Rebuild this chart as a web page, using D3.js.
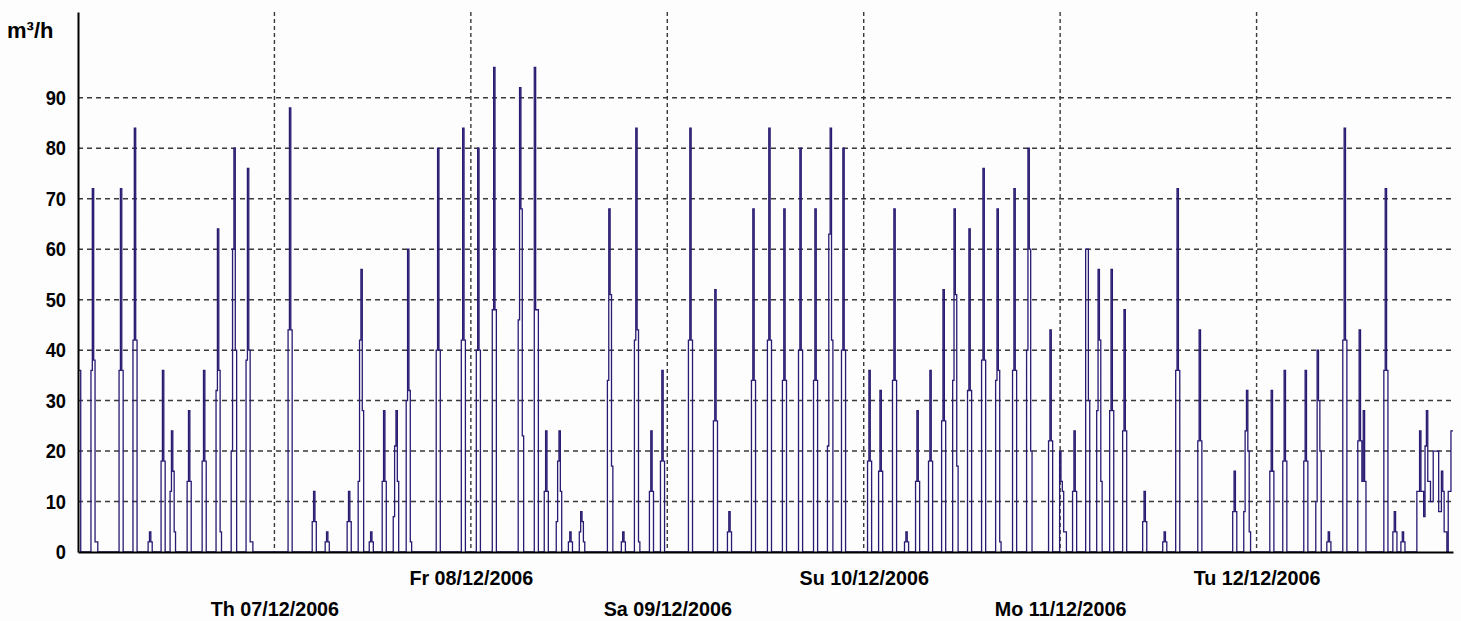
<!DOCTYPE html>
<html>
<head>
<meta charset="utf-8">
<script src="https://cdn.jsdelivr.net/npm/d3@7"></script>
<style>
  body { margin: 0; background: #fdfdfd; }
  svg { display: block; }
  text { font-family: "Liberation Sans", Arial, sans-serif; font-weight: bold; fill: #000; }
</style>
</head>
<body>
<svg id="chart" width="1461" height="621"></svg>
<script>
// flow readings, 10 minute samples, each pulse = start (hours after 06/12/2006 00:00) + values
var pulseStart = [
  0.00, 1.59, 5.01, 6.72, 8.56, 10.15, 11.25, 13.33, 15.16, 16.87, 18.71, 20.54,
  25.67, 28.61, 30.20, 32.89, 34.23, 35.58, 37.17, 38.51, 40.10, 43.77, 46.83,
  48.66, 50.62, 53.79, 55.75, 56.97, 58.44, 59.91, 61.25, 64.68, 66.39, 67.98, 69.81, 71.16,
  74.58, 77.64, 79.35, 82.28, 84.24, 86.07, 88.03, 89.86, 91.57, 93.28,
  96.46, 97.81, 99.52, 100.99, 102.33, 103.92, 105.51, 106.86, 108.69, 110.40, 112.11, 114.19, 115.90, 118.59,
  119.94, 121.52, 123.12, 124.46, 126.05, 127.64, 130.08, 132.53, 134.12, 136.81, 141.09, 142.43,
  145.61, 147.20, 149.77, 151.24, 152.58, 154.54, 156.37, 159.55, 160.65, 161.63, 163.59
];
var pulseValues = [
  [36, 36], [36, 72, 38, 2, 2], [36, 72, 36], [42, 84, 42], [2, 4, 2], [18, 36, 18], [12, 24, 16, 4],
  [14, 28, 14], [18, 36, 18], [32, 64, 36, 4], [20, 60, 80, 40], [38, 76, 40, 2, 2],
  [44, 88, 44], [6, 12, 6], [2, 4, 2], [6, 12, 6], [14, 42, 56, 28], [2, 4, 2], [14, 28, 14],
  [7, 21, 28, 14], [30, 60, 32, 2], [40, 80, 40], [42, 84, 42],
  [40, 80, 40], [48, 96, 48], [46, 92, 68, 23], [96, 48, 48], [12, 24, 12], [6, 18, 24, 12], [2, 4, 2],
  [4, 8, 6, 2], [34, 68, 51, 17], [2, 4, 2], [42, 84, 44, 2], [12, 24, 12], [18, 36, 18],
  [42, 84, 42], [26, 52, 26], [4, 8, 4], [34, 68, 34], [42, 84, 42], [34, 68, 34], [40, 80, 40],
  [34, 68, 34], [21, 63, 84, 42], [40, 80, 40],
  [18, 36, 18], [16, 32, 16], [34, 68, 34], [2, 4, 2], [14, 28, 14], [18, 36, 18], [26, 52, 26],
  [34, 68, 51, 17], [32, 64, 32], [38, 76, 38], [34, 68, 36, 2], [36, 72, 36], [40, 80, 60, 20], [22, 44, 22],
  [20, 14, 12, 4, 4], [12, 24, 12], [60, 60, 30], [28, 56, 42, 14], [28, 56, 28], [24, 48, 24], [6, 12, 6],
  [2, 4, 2], [36, 72, 36], [22, 44, 22], [8, 16, 8], [8, 24, 32, 20, 4],
  [16, 32, 16], [18, 36, 18], [18, 36, 18], [10, 40, 30, 20], [2, 4, 2], [42, 84, 42],
  [22, 44, 22, 14, 28, 14], [36, 72, 36], [4, 8, 4], [2, 4, 2],
  [12, 12, 24, 12, 12, 7, 21, 28, 14, 14, 10, 10, 20, 20, 20, 20, 8, 8, 16, 12, 4, 4, 0, 12, 12, 24, 24]
];
var yTicks = [0, 10, 20, 30, 40, 50, 60, 70, 80, 90];
var dayLabels = ['Th 07/12/2006', 'Fr 08/12/2006', 'Sa 09/12/2006', 'Su 10/12/2006', 'Mo 11/12/2006', 'Tu 12/12/2006'];
var unitLabel = 'm³/h';

var svg = d3.select('#chart');
var margin = { top: 12, right: 8, bottom: 69, left: 78 };
var width = 1461 - margin.left - margin.right;
var height = 621 - margin.top - margin.bottom;

var t0 = new Date(2006, 11, 6);
var t1 = new Date(2006, 11, 13);
var x = d3.scaleTime().domain([t0, t1]).range([margin.left, margin.left + width]);
var y = d3.scaleLinear().domain([0, 107]).range([margin.top + height, margin.top]);

function at(h) { return d3.timeMinute.offset(t0, Math.round(h * 60)); }

// build the step series
var series = [{ t: t0, v: 0 }];
pulseStart.forEach(function(s, i) {
  var vals = pulseValues[i];
  vals.forEach(function(v, k) { series.push({ t: at(s + k / 6), v: v }); });
  series.push({ t: at(s + vals.length / 6), v: 0 });
});
series.push({ t: t1, v: 0 });

var days = d3.timeDay.range(d3.timeDay.offset(t0, 1), t1);

// grid
svg.append('g').selectAll('line').data(yTicks.slice(1)).enter().append('line')
   .attr('x1', margin.left).attr('x2', margin.left + width)
   .attr('y1', d => y(d)).attr('y2', d => y(d))
   .attr('stroke', '#3a3a3a').attr('stroke-width', 1.5).attr('stroke-dasharray', '5,4');
svg.append('g').selectAll('line').data(days).enter().append('line')
   .attr('x1', d => x(d)).attr('x2', d => x(d))
   .attr('y1', margin.top).attr('y2', margin.top + height)
   .attr('stroke', '#3a3a3a').attr('stroke-width', 1.4).attr('stroke-dasharray', '4,3');

svg.append('defs').append('clipPath').attr('id', 'clip').append('rect')
   .attr('x', margin.left).attr('y', 0).attr('width', width).attr('height', margin.top + height);

var line = d3.line().x(d => x(d.t)).y(d => y(d.v)).curve(d3.curveStepAfter);
svg.append('path').datum(series)
   .attr('clip-path', 'url(#clip)')
   .attr('fill', 'none')
   .attr('stroke', '#2a1a72')
   .attr('stroke-width', 1.3)
   .attr('d', line);

// axes
var yAxis = svg.append('g').attr('transform', `translate(${margin.left},0)`)
   .call(d3.axisLeft(y).tickValues(yTicks).tickSize(0).tickSizeOuter(0).tickPadding(12));
yAxis.selectAll('text').attr('font-size', 21)
   .attr('x', -12 / 0.87).attr('transform', 'scale(0.87,1)');
yAxis.select('.domain').attr('stroke', '#000').attr('stroke-width', 2);

var xAxis = svg.append('g').attr('transform', `translate(0,${margin.top + height})`)
   .call(d3.axisBottom(x).tickValues(days).tickSize(0).tickSizeOuter(0)
           .tickFormat((d, i) => dayLabels[i]));
xAxis.selectAll('text').attr('font-size', 21)
   .attr('transform', 'scale(0.94,1)')
   .attr('y', (d, i) => i % 2 === 0 ? 49 : 18);
xAxis.select('.domain').attr('stroke', '#000').attr('stroke-width', 2);

svg.append('text').attr('x', 7).attr('y', 38).attr('font-size', 22).text(unitLabel);
</script>
</body>
</html>
